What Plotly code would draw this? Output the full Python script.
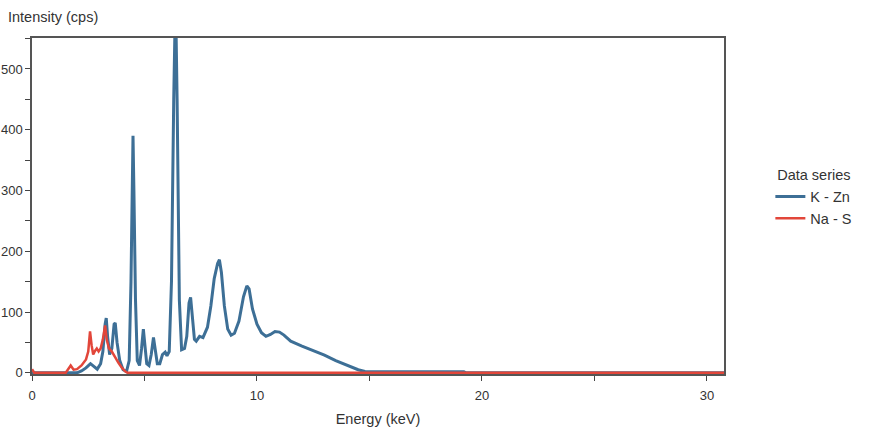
import plotly.graph_objects as go

# K - Zn series (energy keV, intensity cps)
kzn_energy = [0, 2.0, 2.2, 2.4, 2.6, 2.75, 2.9, 3.05, 3.15, 3.25, 3.3, 3.36, 3.45, 3.55, 3.65, 3.7,
              3.78, 3.9, 4.05, 4.2, 4.32, 4.4, 4.45, 4.49, 4.53, 4.6, 4.68, 4.78, 4.87, 4.95, 5.02,
              5.1, 5.2, 5.3, 5.4, 5.48, 5.57, 5.68, 5.8, 5.92, 6.0, 6.1, 6.2, 6.3, 6.38, 6.45, 6.55,
              6.65, 6.78, 6.88, 6.98, 7.05, 7.12, 7.22, 7.3, 7.45, 7.6, 7.8, 7.95, 8.1, 8.25, 8.33,
              8.42, 8.55, 8.7, 8.85, 9.0, 9.2, 9.4, 9.55, 9.65, 9.8, 10.0, 10.2, 10.4, 10.6, 10.8,
              11.0, 11.2, 11.5, 12.0, 12.5, 13.0, 13.5, 14.0, 14.5, 14.8, 15.0, 19.2, 19.3, 30.76]
kzn_counts = [0, 0, 3, 8, 15, 10, 6, 15, 35, 80, 90, 60, 30, 40, 80, 82,
              50, 20, 5, 2, 20, 150, 330, 390, 300, 120, 20, 12, 40, 72, 45,
              15, 12, 30, 58, 40, 15, 15, 30, 34, 28, 35, 150, 450, 620, 450, 120,
              38, 40, 60, 115, 124, 90, 55, 52, 60, 58, 75, 110, 155, 180, 186,
              165, 110, 72, 62, 65, 85, 125, 143, 138, 105, 80, 66, 60, 63, 68,
              67, 62, 52, 44, 37, 29, 20, 12, 5, 2, 1.5, 1.5, 0, 0]

# Na - S series
nas_energy = [0, 0.1, 1.5, 1.6, 1.72, 1.85, 2.0, 2.2, 2.4, 2.5, 2.58, 2.65, 2.72, 2.8, 2.88, 2.96,
              3.05, 3.15, 3.25, 3.32, 3.42, 3.55, 3.7, 3.85, 4.0, 4.15, 4.25, 30.76]
nas_counts = [6, 0, 0, 5, 12, 5, 6, 12, 22, 35, 68, 45, 30, 36, 40, 35,
              40, 55, 78, 55, 40, 35, 25, 16, 8, 2, 0, 0]

x_ticks = [0, 10, 20, 30]
y_ticks = [0, 100, 200, 300, 400, 500]

FONT = "Liberation Sans, Arial, sans-serif"

fig = go.Figure()
fig.add_trace(go.Scatter(x=kzn_energy, y=kzn_counts, mode="lines", name="K - Zn",
                         line=dict(color="#3d6f96", width=3)))
fig.add_trace(go.Scatter(x=nas_energy, y=nas_counts, mode="lines", name="Na - S",
                         line=dict(color="#e2463a", width=2.5)))

tick_font = dict(family=FONT, size=13, color="#333")
title_font = dict(family=FONT, size=14.5, color="#333")

fig.update_layout(
    width=894, height=431,
    margin=dict(l=32, r=170, t=38, b=57),
    paper_bgcolor="white", plot_bgcolor="white",
    font=tick_font,
    showlegend=True,
    legend=dict(x=1.067, y=0.632, xanchor="left", yanchor="top",
                title=dict(text="Data series", side="top center", font=title_font),
                font=title_font,
                tracegroupgap=0, bgcolor="rgba(0,0,0,0)"),
    xaxis=dict(range=[0, 30.76], tickvals=x_ticks, ticks="outside", ticklen=5, tickcolor="#444",
               showline=True, linecolor="#555", linewidth=1.5, mirror=True, showgrid=False,
               zeroline=False, tickfont=tick_font, automargin=False, ticklabelstandoff=4,
               minor=dict(dtick=5, ticks="outside", ticklen=5, tickcolor="#444", showgrid=False),
               title=dict(text="Energy (keV)", font=title_font, standoff=12)),
    yaxis=dict(range=[-2, 551], tickvals=y_ticks, ticks="outside", ticklen=5, tickcolor="#444",
               showline=True, linecolor="#555", linewidth=1.5, mirror=True, showgrid=False,
               zeroline=False, tickfont=tick_font, automargin=False, ticklabelstandoff=0,
               minor=dict(dtick=50, ticks="outside", ticklen=5, tickcolor="#444", showgrid=False)),
    annotations=[dict(text="Intensity (cps)", x=0, y=1, xref="paper", yref="paper",
                      xanchor="left", yanchor="bottom", xshift=-26, yshift=11, showarrow=False,
                      font=title_font)],
)

fig.write_html("out.html")
